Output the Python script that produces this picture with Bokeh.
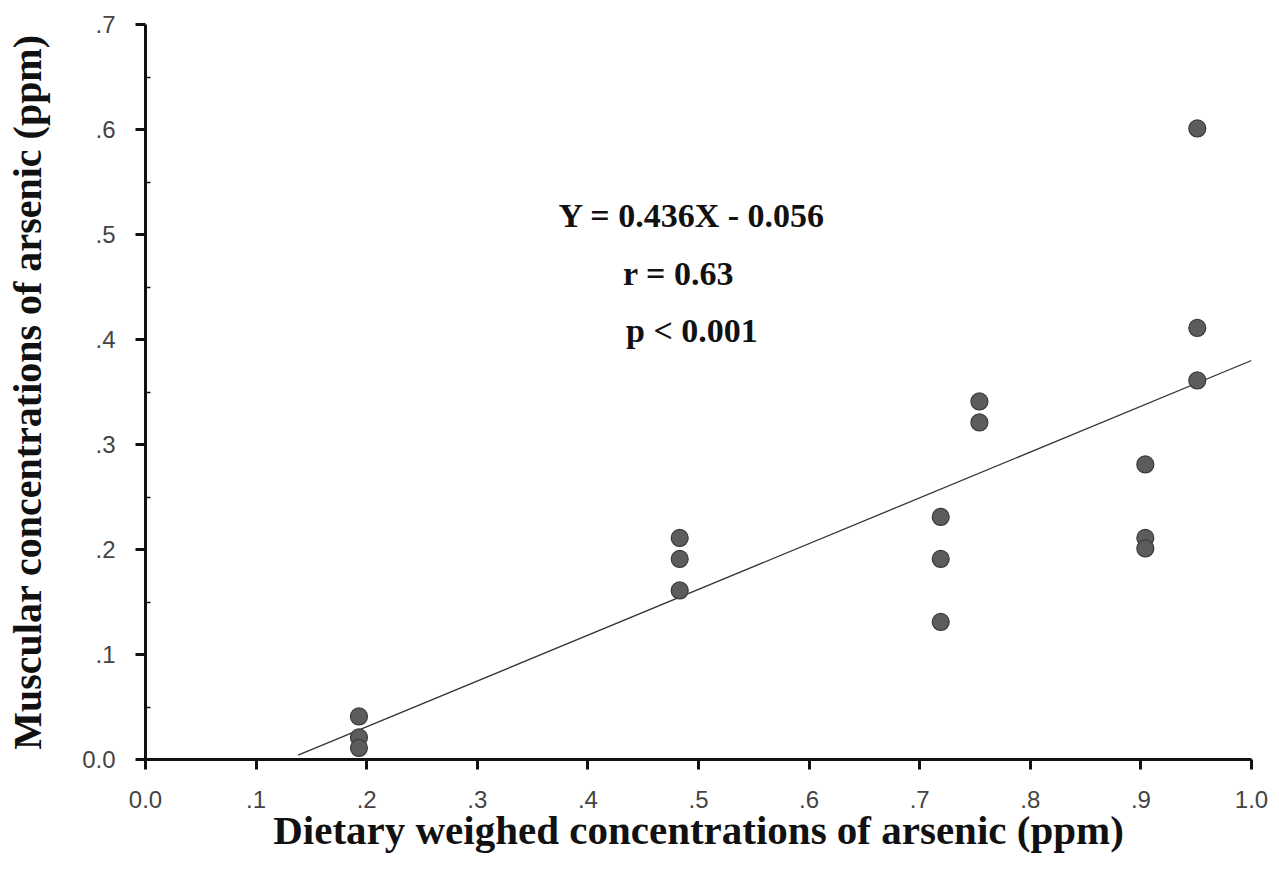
from bokeh.plotting import figure
from bokeh.models import Range1d, Label, FixedTicker, ColumnDataSource
from bokeh.embed import file_html
from bokeh.resources import INLINE

# ---- data ----
diet_x = [0.193, 0.193, 0.193,
          0.483, 0.483, 0.483,
          0.719, 0.719, 0.719,
          0.754, 0.754,
          0.904, 0.904, 0.904,
          0.951, 0.951, 0.951]
muscle_y = [0.041, 0.021, 0.011,
            0.211, 0.191, 0.161,
            0.231, 0.191, 0.131,
            0.341, 0.321,
            0.281, 0.211, 0.201,
            0.601, 0.411, 0.361]
slope = 0.436
intercept = -0.056
fit_x_range = [0.138, 1.0]

x_ticks = [0.0, 0.1, 0.2, 0.3, 0.4, 0.5, 0.6, 0.7, 0.8, 0.9, 1.0]
x_tick_labels = ["0.0", ".1", ".2", ".3", ".4", ".5", ".6", ".7", ".8", ".9", "1.0"]
y_ticks = [0.0, 0.1, 0.2, 0.3, 0.4, 0.5, 0.6, 0.7]
y_tick_labels = ["0.0", ".1", ".2", ".3", ".4", ".5", ".6", ".7"]
y_minor_ticks = [0.05, 0.15, 0.25, 0.35, 0.45, 0.55, 0.65]

stats_lines = ["Y = 0.436X - 0.056", "r = 0.63", "p < 0.001"]

x_label = "Dietary weighed concentrations of arsenic (ppm)"
y_label = "Muscular concentrations of arsenic (ppm)"

fit_y = [slope * x + intercept for x in fit_x_range]

p = figure(width=1270, height=875, output_backend="svg", toolbar_location=None,
           x_range=Range1d(0, 1.0), y_range=Range1d(0, 0.7),
           min_border_left=145, min_border_right=19, min_border_top=24, min_border_bottom=116)
p.outline_line_color = None
p.grid.visible = False
p.background_fill_color = "white"
p.border_fill_color = "white"

p.line(fit_x_range, fit_y, line_color="#333333", line_width=1.3)
src = ColumnDataSource(dict(x=diet_x, y=muscle_y))
p.scatter("x", "y", source=src, size=17, fill_color="#5c5c5c", line_color="#3a3a3a", line_width=1.2)

serif = "Liberation Serif"
tick_font = "Liberation Sans"

xa = p.xaxis[0]
xa.ticker = FixedTicker(ticks=x_ticks)
xa.major_label_overrides = {t: l for t, l in zip(x_ticks, x_tick_labels)}
xa.axis_line_width = 3
xa.axis_line_color = "#111111"
xa.major_tick_line_width = 3
xa.major_tick_line_color = "#111111"
xa.major_tick_out = 10
xa.major_tick_in = 0
xa.minor_tick_line_color = None
xa.major_label_text_font = tick_font
xa.major_label_text_font_size = "24px"
xa.major_label_text_color = "#444444"
xa.major_label_standoff = 21
xa.axis_label = x_label
xa.axis_label_text_font = serif
xa.axis_label_text_font_style = "bold"
xa.axis_label_text_font_size = "41px"
xa.axis_label_text_color = "#111111"
xa.axis_label_standoff = -4

ya = p.yaxis[0]
ya.ticker = FixedTicker(ticks=y_ticks, minor_ticks=y_minor_ticks)
ya.major_label_overrides = {t: l for t, l in zip(y_ticks, y_tick_labels)}
ya.axis_line_width = 3
ya.axis_line_color = "#111111"
ya.major_tick_line_width = 3
ya.major_tick_line_color = "#111111"
ya.major_tick_out = 10
ya.major_tick_in = 0
ya.minor_tick_in = 5
ya.minor_tick_out = 0
ya.minor_tick_line_width = 1.5
ya.minor_tick_line_color = "#111111"
ya.major_label_text_font = tick_font
ya.major_label_text_font_size = "24px"
ya.major_label_text_color = "#444444"
ya.major_label_standoff = 20
ya.axis_label = y_label
ya.axis_label_text_font = serif
ya.axis_label_text_font_style = "bold"
ya.axis_label_text_font_size = "40px"
ya.axis_label_text_color = "#111111"
ya.axis_label_standoff = 29

stat_pos = [(0.494, 0.518), (0.482, 0.463), (0.494, 0.409)]
for (sx, sy), txt in zip(stat_pos, stats_lines):
    p.add_layout(Label(x=sx, y=sy, text=txt, text_font=serif, text_font_style="bold",
                       text_font_size="34px", text_color="#111111",
                       text_align="center", text_baseline="middle"))

open("out.html", "w").write(file_html(p, INLINE))
